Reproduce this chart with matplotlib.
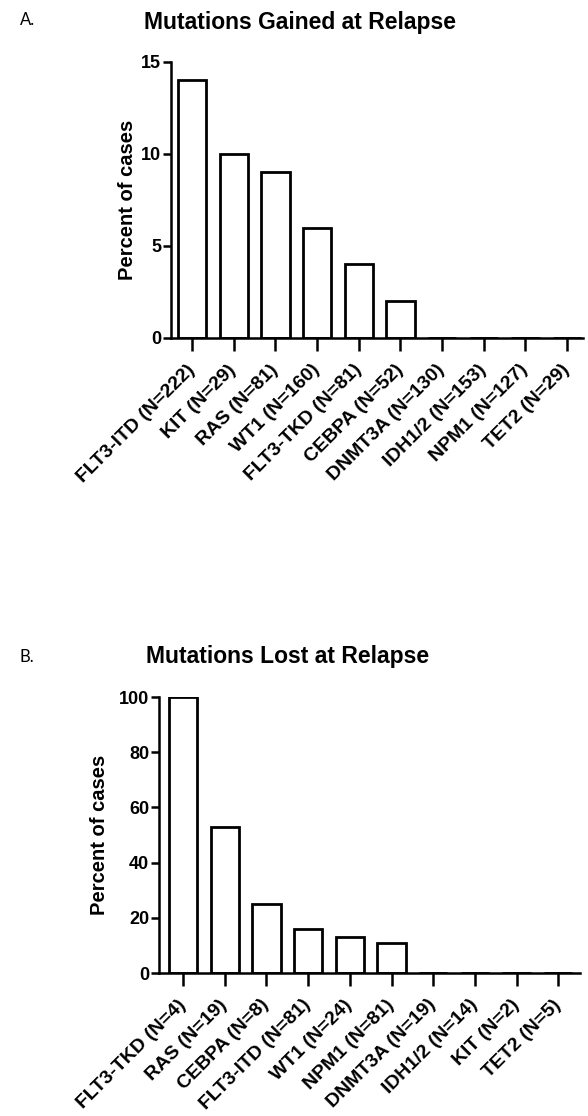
import numpy as np
import matplotlib
matplotlib.use('Agg')
import matplotlib.pyplot as plt
import matplotlib.transforms as mtrans

plt.rcParams['font.family'] = ['Liberation Sans', 'DejaVu Sans']
plt.rcParams['font.weight'] = 'bold'

# Panel A: mutations gained at relapse
genes_a = ['FLT3-ITD (N=222)', 'KIT (N=29)', 'RAS (N=81)', 'WT1 (N=160)', 'FLT3-TKD (N=81)',
           'CEBPA (N=52)', 'DNMT3A (N=130)', 'IDH1/2 (N=153)', 'NPM1 (N=127)', 'TET2 (N=29)']
pct_a = [14.0, 10.0, 9.0, 6.0, 4.0, 2.0, 0, 0, 0, 0]
yticks_a = [0, 5, 10, 15]

# Panel B: mutations lost at relapse
genes_b = ['FLT3-TKD (N=4)', 'RAS (N=19)', 'CEBPA (N=8)', 'FLT3-ITD (N=81)', 'WT1 (N=24)',
           'NPM1 (N=81)', 'DNMT3A (N=19)', 'IDH1/2 (N=14)', 'KIT (N=2)', 'TET2 (N=5)']
pct_b = [100.0, 53.0, 25.0, 16.0, 13.0, 11.0, 0, 0, 0, 0]
yticks_b = [0, 20, 40, 60, 80, 100]

W, H = 588, 1116
fig = plt.figure(figsize=(W/100, H/100), dpi=100)

def px_axes(x0, y0, x1, y1):
    return fig.add_axes([x0/W, 1-y1/H, (x1-x0)/W, (y1-y0)/H])

def panel(ax, labels, vals, yticks, xlim):
    x = np.arange(len(labels))
    ax.bar(x, vals, width=0.68, color='white', edgecolor='black', linewidth=2.0, zorder=2)
    ax.set_xlim(*xlim)
    ax.set_ylim(0, yticks[-1])
    ax.set_yticks(yticks)
    ax.set_xticks(x)
    ax.set_xticklabels(labels, rotation=45, ha='right', va='center', rotation_mode='anchor',
                       fontsize=14, fontweight='bold')
    shift = mtrans.ScaledTranslation(0.05, 0, fig.dpi_scale_trans)
    for t in ax.get_xticklabels():
        t.set_transform(t.get_transform() + shift)
    for s in ['top', 'right']:
        ax.spines[s].set_visible(False)
    for s in ['left', 'bottom']:
        ax.spines[s].set_linewidth(1.8)
        ax.spines[s].set_zorder(3)
    ax.tick_params(axis='y', length=6, width=1.8, labelsize=13, pad=1)
    ax.tick_params(axis='x', length=9, width=1.8, pad=12)
    for t in ax.get_yticklabels():
        t.set_fontweight('bold')
    ax.set_ylabel('Percent of cases', fontsize=14.5, fontweight='bold')

axA = px_axes(171, 62, 583, 338)
panel(axA, genes_a, pct_a, yticks_a, (-0.504, 9.38))
axA.yaxis.set_label_coords(-34/412, 0.5)

axB = px_axes(159, 697, 580, 973)
panel(axB, genes_b, pct_b, yticks_b, (-0.576, 9.52))
axB.yaxis.set_label_coords(-50/421, 0.5)

fig.text(300/W, 1-23/H, 'Mutations Gained at Relapse', ha='center', va='center',
         fontsize=16.5, fontweight='bold')
fig.text(288/W, 1-657/H, 'Mutations Lost at Relapse', ha='center', va='center',
         fontsize=16.5, fontweight='bold')
fig.text(28/W, 1-20/H, 'A.', ha='center', va='center', fontsize=12, fontweight='normal',
         family=['Lato', 'DejaVu Sans'])
fig.text(27/W, 1-657/H, 'B.', ha='center', va='center', fontsize=12, fontweight='normal',
         family=['Lato', 'DejaVu Sans'])

fig.savefig('out.png', dpi=100)
